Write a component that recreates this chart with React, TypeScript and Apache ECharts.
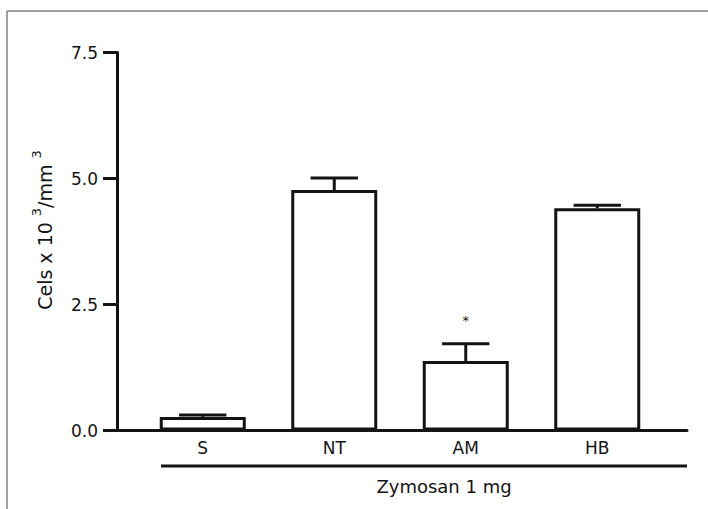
import React, { useEffect, useRef } from "react";
import * as echarts from "echarts";

const categories = ["S", "NT", "AM", "HB"];
const means = [0.27, 4.77, 1.38, 4.41];
const errors = [0.04, 0.24, 0.34, 0.06];
const significance = ["", "", "*", ""];
const yMin = 0;
const yMax = 7.5;
const yInterval = 2.5;
const yTitleParts = ["Cels x 10 ", "3", "/mm ", "3"];
const groupTitle = "Zymosan 1 mg";

const FONT = "'DejaVu Sans', 'Liberation Sans', Arial, sans-serif";
const INK = "#141414";

export default function App() {
  const ref = useRef<HTMLDivElement>(null);
  useEffect(() => {
    if (!ref.current) return;
    const chart = echarts.init(ref.current, null, { renderer: "svg" });
    const barData = means.map((m) => m);
    const errData = means.map((m, i) => [i, m, errors[i]]);
    const yTitleRich =
      `{n|${yTitleParts[0]}}{s|${yTitleParts[1]}}{n|${yTitleParts[2]}}{s|${yTitleParts[3]}}`;
    chart.setOption({
      animation: false,
      backgroundColor: "#ffffff",
      grid: [
        { left: 137, right: 45, top: 52.5, bottom: 78.5 },
        { left: 117, right: 21, top: 52.5, bottom: 78.5 },
      ],
      xAxis: [
        {
          type: "category",
          gridIndex: 0,
          data: categories,
          axisLine: { show: false },
          axisTick: { show: false },
          axisLabel: { color: INK, fontSize: 17, fontFamily: FONT, margin: 9 },
        },
        {
          type: "value",
          gridIndex: 1,
          min: 0,
          max: 1,
          axisLine: { show: true, lineStyle: { color: INK, width: 3 } },
          axisTick: { show: false },
          axisLabel: { show: false },
          splitLine: { show: false },
        },
      ],
      yAxis: [
        {
          type: "value",
          gridIndex: 0,
          min: yMin,
          max: yMax,
          interval: yInterval,
          offset: 20,
          axisLine: { show: true, lineStyle: { color: INK, width: 3 } },
          axisTick: { show: true, length: 14, lineStyle: { color: INK, width: 3 } },
          axisLabel: {
            color: INK,
            fontSize: 17,
            fontFamily: FONT,
            margin: 19,
            formatter: (v: number) => v.toFixed(1),
          },
          splitLine: { show: false },
        },
        {
          type: "value",
          gridIndex: 1,
          show: false,
          min: 0,
          max: 1,
        },
      ],
      series: [
        {
          type: "bar",
          xAxisIndex: 0,
          yAxisIndex: 0,
          data: barData,
          barWidth: 86,
          itemStyle: { color: "#ffffff", borderColor: INK, borderWidth: 3 },
          z: 2,
        },
        {
          type: "custom",
          xAxisIndex: 0,
          yAxisIndex: 0,
          data: errData,
          z: 3,
          renderItem: (params: any, api: any) => {
            const i = api.value(0);
            const m = api.value(1);
            const e = api.value(2);
            const mark = significance[params.dataIndex];
            const top = api.coord([i, m]);
            const cap = api.coord([i, m + e]);
            const half = api.size([1, 0])[0] * 0.18;
            const children: any[] = [
              {
                type: "line",
                shape: { x1: top[0], y1: top[1], x2: cap[0], y2: cap[1] },
                style: { stroke: INK, lineWidth: 3 },
              },
              {
                type: "line",
                shape: { x1: cap[0] - half, y1: cap[1], x2: cap[0] + half, y2: cap[1] },
                style: { stroke: INK, lineWidth: 3 },
              },
            ];
            if (mark) {
              children.push({
                type: "text",
                style: {
                  text: mark,
                  x: cap[0],
                  y: cap[1] - 23,
                  fill: INK,
                  font: `13px ${FONT}`,
                  align: "center",
                  verticalAlign: "middle",
                },
              });
            }
            return { type: "group", children };
          },
        },
      ],
      graphic: [
        {
          type: "line",
          shape: { x1: 7, y1: 11, x2: 708, y2: 11 },
          style: { stroke: "#808080", lineWidth: 1.5 },
          silent: true,
        },
        {
          type: "line",
          shape: { x1: 7, y1: 11, x2: 7, y2: 509 },
          style: { stroke: "#808080", lineWidth: 1.5 },
          silent: true,
        },
        {
          type: "line",
          shape: { x1: 161, y1: 466, x2: 687, y2: 466 },
          style: { stroke: INK, lineWidth: 3 },
          silent: true,
        },
        {
          type: "text",
          x: 444,
          y: 486,
          style: {
            text: groupTitle,
            fill: INK,
            font: `18px ${FONT}`,
            align: "center",
            verticalAlign: "middle",
          },
          silent: true,
        },
        {
          type: "text",
          x: 42,
          y: 230,
          rotation: Math.PI / 2,
          style: {
            text: yTitleRich,
            fill: INK,
            align: "center",
            verticalAlign: "middle",
            rich: {
              n: { fontSize: 19, fontFamily: FONT, fill: INK, lineHeight: 24, verticalAlign: "bottom" },
              s: { fontSize: 13, fontFamily: FONT, fill: INK, lineHeight: 24, verticalAlign: "top" },
            },
          },
          silent: true,
        },
      ],
    });
    return () => chart.dispose();
  }, []);
  return (
    <div
      ref={ref}
      style={{ position: "fixed", left: 0, top: 0, width: 708, height: 509, background: "#fff" }}
    />
  );
}
